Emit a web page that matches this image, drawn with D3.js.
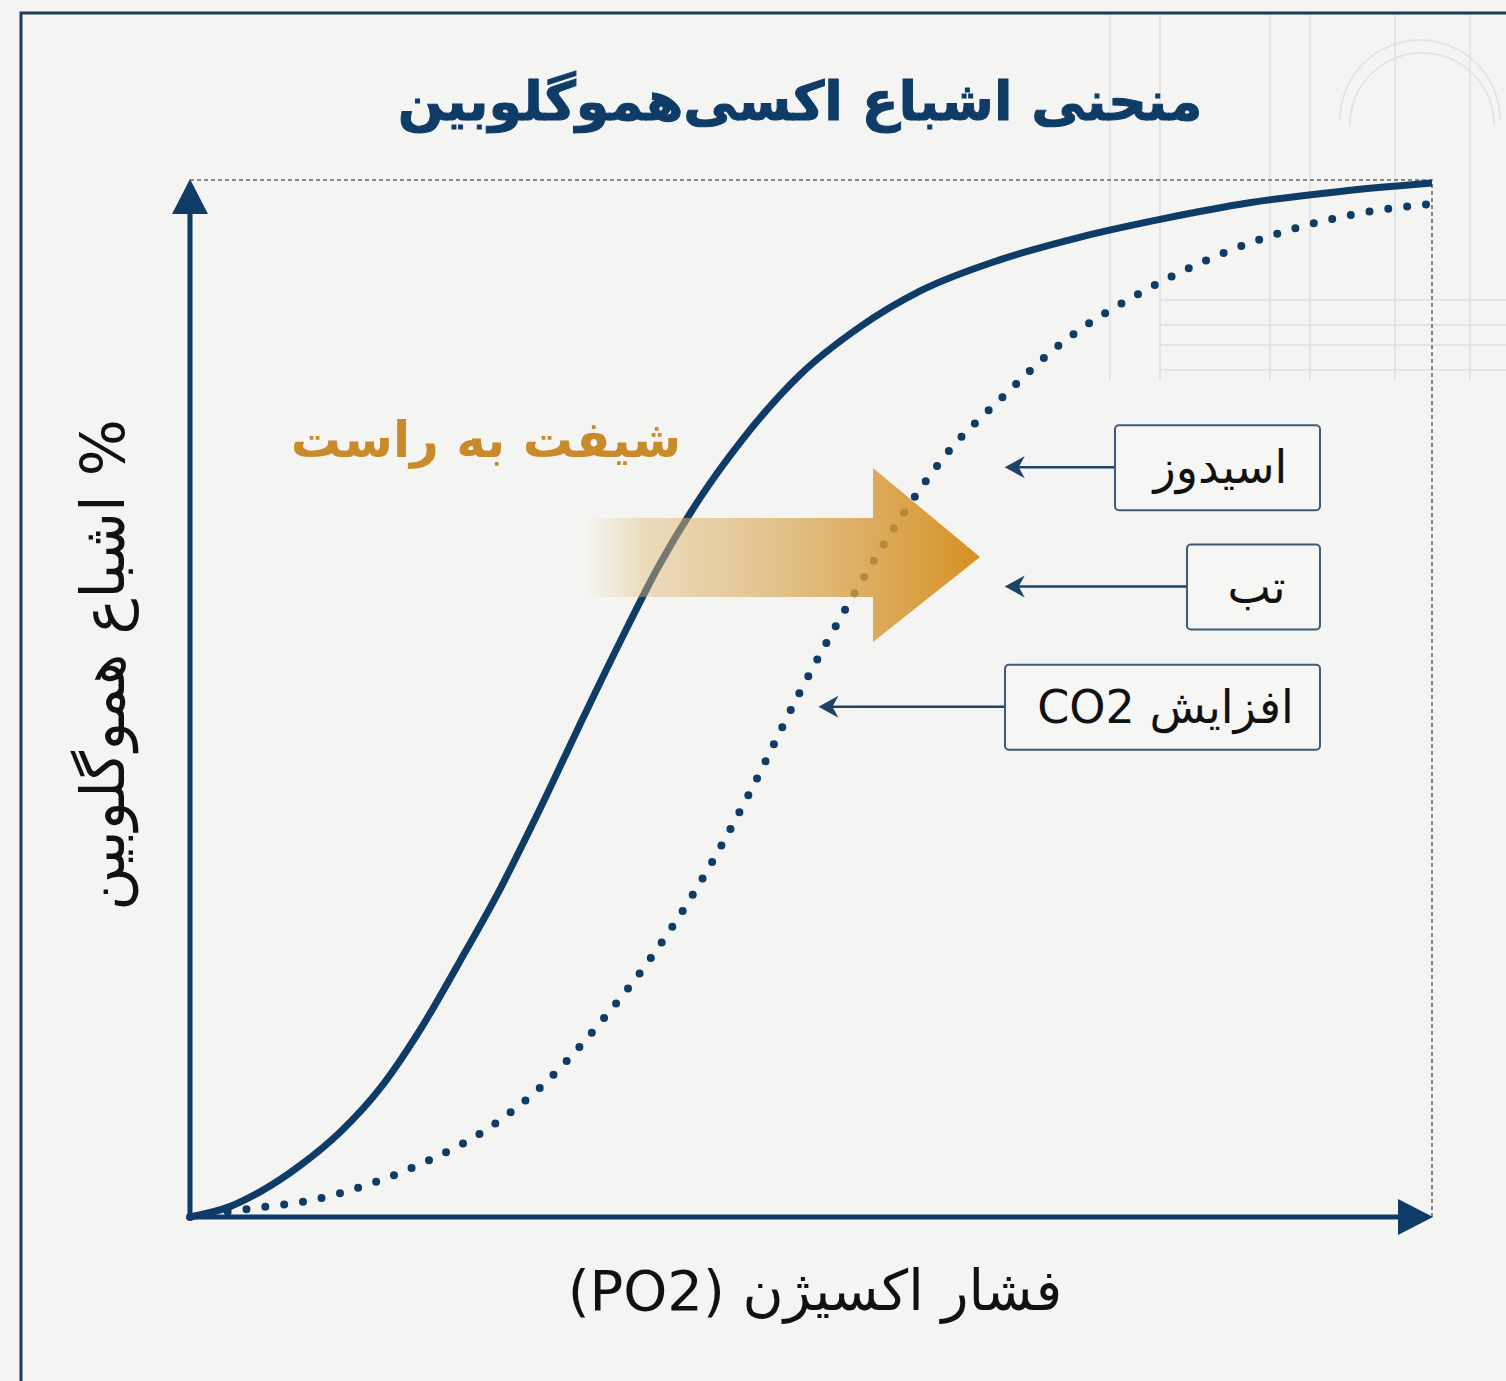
<!DOCTYPE html>
<html>
<head>
<meta charset="utf-8">
<script src="https://cdn.jsdelivr.net/npm/d3@7"></script>
<style>
  body { margin: 0; background: #f4f4f2; }
  text { font-family: "DejaVu Sans", "Noto Sans", sans-serif; }
</style>
</head>
<body>
<svg id="svg" width="1506" height="1381"></svg>
<script>
// normal curve (solid)
var normalPO2 = [0, 3.2, 5.6, 8.9, 12.1, 15.3, 18.5, 21.7, 25.0, 28.2, 31.4, 34.6, 37.8, 41.1, 44.3, 49.1, 53.9, 58.8, 65.2, 71.7, 78.1, 85.3, 92.6, 100];
var normalSat = [0, 1.0, 2.4, 5.0, 8.2, 12.4, 18.0, 24.6, 31.7, 39.4, 47.5, 55.4, 62.9, 69.4, 74.7, 81.2, 85.8, 89.3, 92.3, 94.5, 96.2, 97.8, 98.9, 99.7];
// right-shifted curve (dotted)
var shiftPO2 = [0, 4.8, 9.7, 14.5, 19.3, 24.2, 29.0, 33.0, 37.0, 41.1, 45.1, 49.1, 53.1, 57.2, 61.2, 65.2, 70.0, 76.5, 82.1, 88.6, 94.2, 100];
var shiftSat = [0, 0.8, 1.6, 3.2, 5.5, 8.7, 13.4, 18.7, 24.8, 32.3, 41.0, 50.6, 59.3, 67.4, 74.0, 78.8, 84.1, 89.1, 92.4, 95.2, 96.8, 97.7];
var factors = ["اسیدوز", "تب", "افزایش CO2"];

var title = "منحنی اشباع اکسی‌هموگلوبین";
var xTitle = "فشار اکسیژن (PO2)";
var yTitle = "% اشباع هموگلوبین";
var shiftLabel = "شیفت به راست";

var navy = "#0f3b67";
var svg = d3.select("#svg");

var x = d3.scaleLinear().domain([0, 100]).range([190, 1432]);
var y = d3.scaleLinear().domain([0, 100]).range([1217, 180]);

// frame
svg.append("rect").attr("width", 1506).attr("height", 1381).attr("fill", "#f4f4f2");
var deco = svg.append("g").attr("stroke", "#dde0e4").attr("fill", "none").attr("stroke-width", 1.5);
[1110, 1160, 1270, 1310, 1395, 1470].forEach(function(d) {
  deco.append("line").attr("x1", d).attr("x2", d).attr("y1", 15).attr("y2", 380);
});
[300, 325, 345, 370].forEach(function(d) {
  deco.append("line").attr("x1", 1160).attr("x2", 1506).attr("y1", d).attr("y2", d);
});
deco.append("path").attr("d", "M1340,120 A80,80 0 0 1 1500,120");
deco.append("path").attr("d", "M1350,125 A72,72 0 0 1 1494,125");

svg.append("path")
  .attr("d", "M21,1381 L21,13 L1506,13")
  .attr("fill", "none").attr("stroke", "#1d3a58").attr("stroke-width", 3);

// title
svg.append("text")
  .attr("x", 800).attr("y", 120)
  .attr("text-anchor", "middle").attr("direction", "rtl")
  .attr("font-size", 54).attr("font-weight", "bold")
  .attr("fill", navy).attr("stroke", navy).attr("stroke-width", 1)
  .text(title);

// dashed bounds
svg.append("path")
  .attr("d", "M" + x(0) + "," + y(100) + " L" + x(100) + "," + y(100) + " L" + x(100) + "," + y(0))
  .attr("fill", "none").attr("stroke", "#666").attr("stroke-width", 1.6)
  .attr("stroke-dasharray", "4 3");

// axes
svg.append("line")
  .attr("x1", x(0)).attr("y1", y(0)).attr("x2", x(0)).attr("y2", y(100) + 30)
  .attr("stroke", navy).attr("stroke-width", 5);
svg.append("path")
  .attr("d", "M" + x(0) + "," + (y(100) - 1) + " L" + (x(0) - 18) + "," + (y(100) + 34) + " L" + (x(0) + 18) + "," + (y(100) + 34) + "Z")
  .attr("fill", navy);
svg.append("line")
  .attr("x1", x(0) - 2.5).attr("y1", y(0)).attr("x2", x(100) - 30).attr("y2", y(0))
  .attr("stroke", navy).attr("stroke-width", 5);
svg.append("path")
  .attr("d", "M" + (x(100) + 1) + "," + y(0) + " L" + (x(100) - 34) + "," + (y(0) - 18) + " L" + (x(100) - 34) + "," + (y(0) + 18) + "Z")
  .attr("fill", navy);

// curves
var line = d3.line()
  .x(function(d) { return x(d[0]); })
  .y(function(d) { return y(d[1]); })
  .curve(d3.curveMonotoneX);

svg.append("path")
  .datum(d3.zip(shiftPO2, shiftSat))
  .attr("d", line)
  .attr("fill", "none").attr("stroke", navy).attr("stroke-width", 8)
  .attr("stroke-linecap", "round").attr("stroke-dasharray", "0 19");

svg.append("path")
  .datum(d3.zip(normalPO2, normalSat))
  .attr("d", line)
  .attr("fill", "none").attr("stroke", navy).attr("stroke-width", 7);

// shift arrow
var defs = svg.append("defs");
var grad = defs.append("linearGradient").attr("id", "shiftGrad")
  .attr("gradientUnits", "userSpaceOnUse")
  .attr("x1", 585).attr("x2", 980).attr("y1", 0).attr("y2", 0);
grad.append("stop").attr("offset", 0).attr("stop-color", "#e6c58c").attr("stop-opacity", 0);
grad.append("stop").attr("offset", 0.15).attr("stop-color", "#e0bb7a").attr("stop-opacity", 0.45);
grad.append("stop").attr("offset", 0.55).attr("stop-color", "#d9a858").attr("stop-opacity", 0.75);
grad.append("stop").attr("offset", 1).attr("stop-color", "#d4870f").attr("stop-opacity", 0.92);

svg.append("path")
  .attr("d", "M585,518 L873,518 L873,468 L980,557 L873,642 L873,597 L585,597 Z")
  .attr("fill", "url(#shiftGrad)");

svg.append("text")
  .attr("x", 486).attr("y", 457)
  .attr("text-anchor", "middle").attr("direction", "rtl")
  .attr("font-size", 50).attr("font-weight", "bold")
  .attr("fill", "#c98a2c")
  .text(shiftLabel);

// factor boxes
var boxLeft = [1115, 1187, 1005];
var tipPO2 = [65.6, 65.6, 50.6];
var levelSat = [72.3, 60.8, 49.2];
var boxes = svg.append("g").selectAll("g").data(factors).enter().append("g");
boxes.append("line")
  .attr("x1", function(d, i) { return boxLeft[i]; })
  .attr("x2", function(d, i) { return x(tipPO2[i]) + 12; })
  .attr("y1", function(d, i) { return y(levelSat[i]); })
  .attr("y2", function(d, i) { return y(levelSat[i]); })
  .attr("stroke", "#1f4366").attr("stroke-width", 2.5);
boxes.append("path")
  .attr("d", function(d, i) {
    var tx = x(tipPO2[i]), ty = y(levelSat[i]);
    return "M" + tx + "," + ty + " L" + (tx + 20) + "," + (ty - 11) + " L" + (tx + 14) + "," + ty + " L" + (tx + 20) + "," + (ty + 11) + "Z";
  })
  .attr("fill", "#1f4366");
boxes.append("rect")
  .attr("x", function(d, i) { return boxLeft[i]; })
  .attr("y", function(d, i) { return y(levelSat[i]) - 42; })
  .attr("width", function(d, i) { return 1320 - boxLeft[i]; })
  .attr("height", 85)
  .attr("rx", 4)
  .attr("fill", "#f6f6f4").attr("stroke", "#3d5a78").attr("stroke-width", 2);
boxes.append("text")
  .attr("x", function(d, i) { return (1320 + boxLeft[i]) / 2 + 3; })
  .attr("y", function(d, i) { return y(levelSat[i]) + 16; })
  .attr("text-anchor", "middle").attr("direction", "rtl")
  .attr("font-size", 46).attr("fill", "#111")
  .text(function(d) { return d; });

// axis titles
svg.append("text")
  .attr("x", 815).attr("y", 1310)
  .attr("text-anchor", "middle").attr("direction", "rtl")
  .attr("font-size", 56).attr("fill", "#111")
  .text(xTitle);

svg.append("text")
  .attr("transform", "translate(124,665) rotate(-90)")
  .attr("text-anchor", "middle").attr("direction", "rtl")
  .attr("font-size", 60).attr("fill", "#111")
  .text(yTitle);
</script>
</body>
</html>
